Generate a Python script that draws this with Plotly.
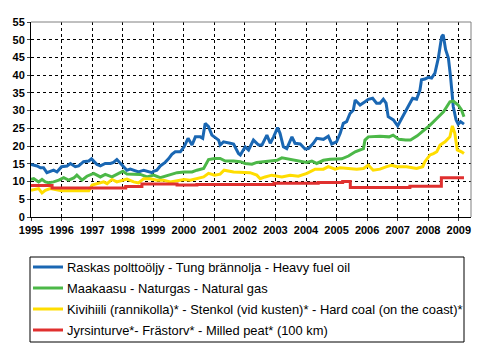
import plotly.graph_objects as go

# ---- data (decimal years) ----
oil_x = [1995.00,1995.20,1995.31,1995.41,1995.52,1995.63,1995.74,1995.85,1996.00,1996.18,1996.29,1996.45,1996.56,1996.72,1996.89,1996.98,
         1997.16,1997.27,1997.43,1997.60,1997.70,1997.81,1997.92,1998.01,1998.14,1998.25,1998.36,1998.52,1998.69,1998.85,1998.96,1999.01,
         1999.12,1999.23,1999.39,1999.50,1999.61,1999.72,1999.89,2000.01,2000.14,2000.27,2000.38,2000.54,2000.62,2000.70,2000.81,2000.92,
         2001.01,2001.14,2001.19,2001.30,2001.52,2001.63,2001.79,2001.85,2002.01,2002.12,2002.28,2002.45,2002.56,2002.72,2002.83,2002.94,
         2003.07,2003.15,2003.26,2003.37,2003.54,2003.64,2003.81,2003.97,2004.08,2004.24,2004.35,2004.57,2004.73,2004.84,2005.00,2005.12,
         2005.22,2005.33,2005.44,2005.55,2005.61,2005.77,2005.93,2006.04,2006.18,2006.31,2006.42,2006.53,2006.62,2006.69,2006.86,2007.00,
         2007.13,2007.30,2007.40,2007.49,2007.62,2007.73,2007.78,2007.89,2008.00,2008.11,2008.22,2008.33,2008.44,2008.49,2008.57,2008.66,
         2008.73,2008.82,2008.91,2008.98,2009.06,2009.17]
oil_y = [14.8,14.4,13.9,13.9,12.5,12.9,13.2,12.7,14.2,14.4,15.1,14.2,14.4,15.6,15.8,16.4,
         14.8,14.4,15.1,15.1,15.4,16.2,15.1,14.4,13.2,13.5,13.2,12.7,13.2,12.9,12.5,12.9,
         13.2,14.4,15.4,16.4,17.7,18.4,18.4,19.8,22.2,20.3,22.6,22.6,22.2,26.4,25.5,23.1,
         22.6,21.7,20.3,21.2,20.8,20.6,17.9,17.5,19.8,18.9,21.7,20.3,20.3,23.1,20.8,22.6,
         25.2,23.6,19.8,19.3,22.6,20.8,20.6,19.2,19.3,20.8,22.2,21.9,22.8,20.6,21.2,23.6,
         26.4,26.9,29.2,30.2,33.0,31.6,32.5,33.2,33.5,32.1,32.1,33.2,32.1,28.3,27.4,25.7,
         27.8,30.7,32.1,33.5,33.2,35.8,38.7,38.9,39.4,39.2,40.6,44.8,50.9,51.4,47.2,44.8,
         39.6,31.1,27.4,26.2,26.9,26.2]

gas_x = [1995.00,1995.09,1995.25,1995.36,1995.47,1995.58,1995.74,1995.91,1996.07,1996.23,1996.40,1996.50,1996.67,1996.83,1997.05,1997.27,
         1997.43,1997.65,1997.87,1998.01,1998.14,1998.36,1998.58,1998.80,1999.01,1999.23,1999.45,1999.61,1999.78,2000.01,2000.27,2000.43,
         2000.65,2000.81,2001.01,2001.19,2001.36,2001.63,2001.85,2002.01,2002.23,2002.39,2002.72,2003.05,2003.21,2003.48,2003.81,2004.02,
         2004.19,2004.35,2004.57,2004.79,2005.17,2005.39,2005.61,2005.88,2005.93,2006.04,2006.42,2006.72,2006.85,2007.04,2007.26,2007.42,
         2007.64,2007.81,2008.06,2008.28,2008.50,2008.71,2008.82,2008.98,2009.09,2009.17]
gas_y = [10.6,10.8,9.9,10.6,9.9,9.7,9.9,10.4,11.1,10.4,11.0,11.8,10.4,11.5,12.3,11.3,
         12.0,11.3,12.3,12.9,12.1,12.0,12.0,11.3,11.8,11.1,11.6,12.1,12.5,12.7,12.7,13.2,
         13.7,16.2,16.5,16.5,15.8,15.8,15.6,15.1,14.9,15.4,15.8,16.0,16.7,16.2,15.8,15.4,
         15.8,15.1,16.0,16.3,16.4,17.2,18.4,19.3,21.7,22.6,22.8,22.6,23.1,21.9,21.7,21.7,
         22.9,24.1,25.9,27.8,29.7,32.5,32.7,31.6,30.2,28.3]

coal_x = [1995.00,1995.14,1995.25,1995.36,1995.47,1995.63,1995.80,1996.00,1996.40,1996.72,1996.89,1997.00,1997.16,1997.38,1997.49,1997.65,
          1997.81,1998.01,1998.14,1998.36,1998.52,1998.69,1998.90,1999.12,1999.34,1999.56,1999.78,2000.01,2000.21,2000.43,2000.65,2000.81,
          2001.01,2001.19,2001.32,2001.63,2001.85,2002.17,2002.39,2002.50,2002.66,2002.88,2003.21,2003.48,2003.75,2004.03,2004.30,2004.57,
          2004.73,2004.95,2005.12,2005.39,2005.66,2005.88,2006.04,2006.20,2006.42,2006.64,2006.80,2006.97,2007.29,2007.62,2007.82,2007.89,
          2008.06,2008.17,2008.28,2008.39,2008.55,2008.71,2008.79,2008.87,2008.95,2009.09,2009.17]
coal_y = [7.5,7.7,8.0,6.8,7.5,8.0,7.7,7.4,7.5,7.5,7.4,9.0,9.4,9.9,9.4,10.6,
          9.9,10.4,10.7,9.9,9.6,10.8,10.8,10.4,10.4,9.9,10.2,10.6,10.4,10.8,11.3,12.3,
          11.8,12.1,13.2,12.7,12.6,12.5,11.8,10.8,11.3,11.8,11.3,11.8,11.5,12.3,13.5,13.5,
          14.2,13.5,13.9,13.7,13.5,13.7,14.6,13.2,13.5,14.2,14.6,14.2,14.2,13.7,14.2,15.6,
          17.5,17.9,18.4,20.3,21.2,22.6,25.7,23.6,18.9,18.4,17.9]

peat_x = [1995.00,1995.69,1998.10,1998.63,1999.78,2000.43,2002.95,2004.40,2005.20,2005.45,2007.40,2008.43,2009.17]
peat_y = [8.9,8.2,8.6,9.3,9.0,9.2,9.5,9.7,10.0,8.3,8.7,11.1,11.1]

names = ["Raskas polttoöljy - Tung brännolja - Heavy fuel oil",
         "Maakaasu - Naturgas - Natural gas",
         "Kivihiili (rannikolla)* - Stenkol (vid kusten)* - Hard coal (on the coast)*",
         "Jyrsinturve*- Frästorv* - Milled peat* (100 km)"]
colors = ["#1A67B3", "#4CB848", "#FFDD00", "#E0302F"]

year_ticks = list(range(1995, 2010))
y_ticks = list(range(0, 60, 5))
x_range = [1995, 2009.4]
y_range = [0, 55]

# figure / plot-area geometry (pixels)
W, H = 495, 351
ML, MR, MT, MB = 31, 24, 22, 134
PW, PH = W - ML - MR, H - MT - MB


def px_x(p):  # pixel -> paper x
    return (p - ML) / PW


def px_y(p):  # pixel -> paper y
    return (H - MB - p) / PH


fig = go.Figure()
series = [(oil_x, oil_y, "linear"), (gas_x, gas_y, "linear"),
          (coal_x, coal_y, "linear"), (peat_x, peat_y, "hv")]
for i, (xs, ys, shp) in enumerate(series):
    fig.add_trace(go.Scatter(x=xs, y=ys, name=names[i], mode="lines", showlegend=False,
                             line=dict(color=colors[i], width=3, shape=shp)))

# gray top / right frame of the plot area
fig.add_shape(type="line", xref="paper", yref="paper", x0=0, x1=1, y0=1, y1=1,
              line=dict(color="#808080", width=1))
fig.add_shape(type="line", xref="paper", yref="paper", x0=1, x1=1, y0=0, y1=1,
              line=dict(color="#808080", width=1))

# legend box drawn below the plot (box, line samples, labels)
box_l, box_r, box_t, box_b = 30, 464, 257, 342
row0, row_step = 267, 21
fig.add_shape(type="rect", xref="paper", yref="paper",
              x0=px_x(box_l), x1=px_x(box_r), y0=px_y(box_t), y1=px_y(box_b),
              line=dict(color="black", width=1), fillcolor="white")
for i, nm in enumerate(names):
    yy = px_y(row0 + i * row_step)
    fig.add_shape(type="line", xref="paper", yref="paper",
                  x0=px_x(box_l + 3), x1=px_x(box_l + 33), y0=yy, y1=yy,
                  line=dict(color=colors[i], width=3))
    fig.add_annotation(xref="paper", yref="paper", x=px_x(box_l + 35), y=yy,
                       text=nm, showarrow=False, xanchor="left", yanchor="middle",
                       font=dict(family="Liberation Sans, Arial", size=12.9, color="black"))

tickfont = dict(family="Liberation Sans, Arial", size=11, color="black")
fig.update_layout(
    template="none",
    width=W, height=H,
    margin=dict(l=ML, r=MR, t=MT, b=MB),
    showlegend=False,
)
fig.update_xaxes(range=x_range, tickvals=year_ticks,
                 ticktext=[f"<b>{y}</b>" for y in year_ticks], tickfont=tickfont,
                 showgrid=True, gridcolor="black", gridwidth=1, griddash="dot",
                 zeroline=False,
                 showline=True, linecolor="black", ticks="outside", ticklen=3)
fig.update_yaxes(range=y_range, tickvals=y_ticks,
                 ticktext=[f"<b>{v}</b>" for v in y_ticks], tickfont=tickfont,
                 showgrid=True, gridcolor="black", gridwidth=1, griddash="dot",
                 zeroline=False,
                 showline=True, linecolor="black", ticks="outside", ticklen=3)

fig.write_html("out.html")
